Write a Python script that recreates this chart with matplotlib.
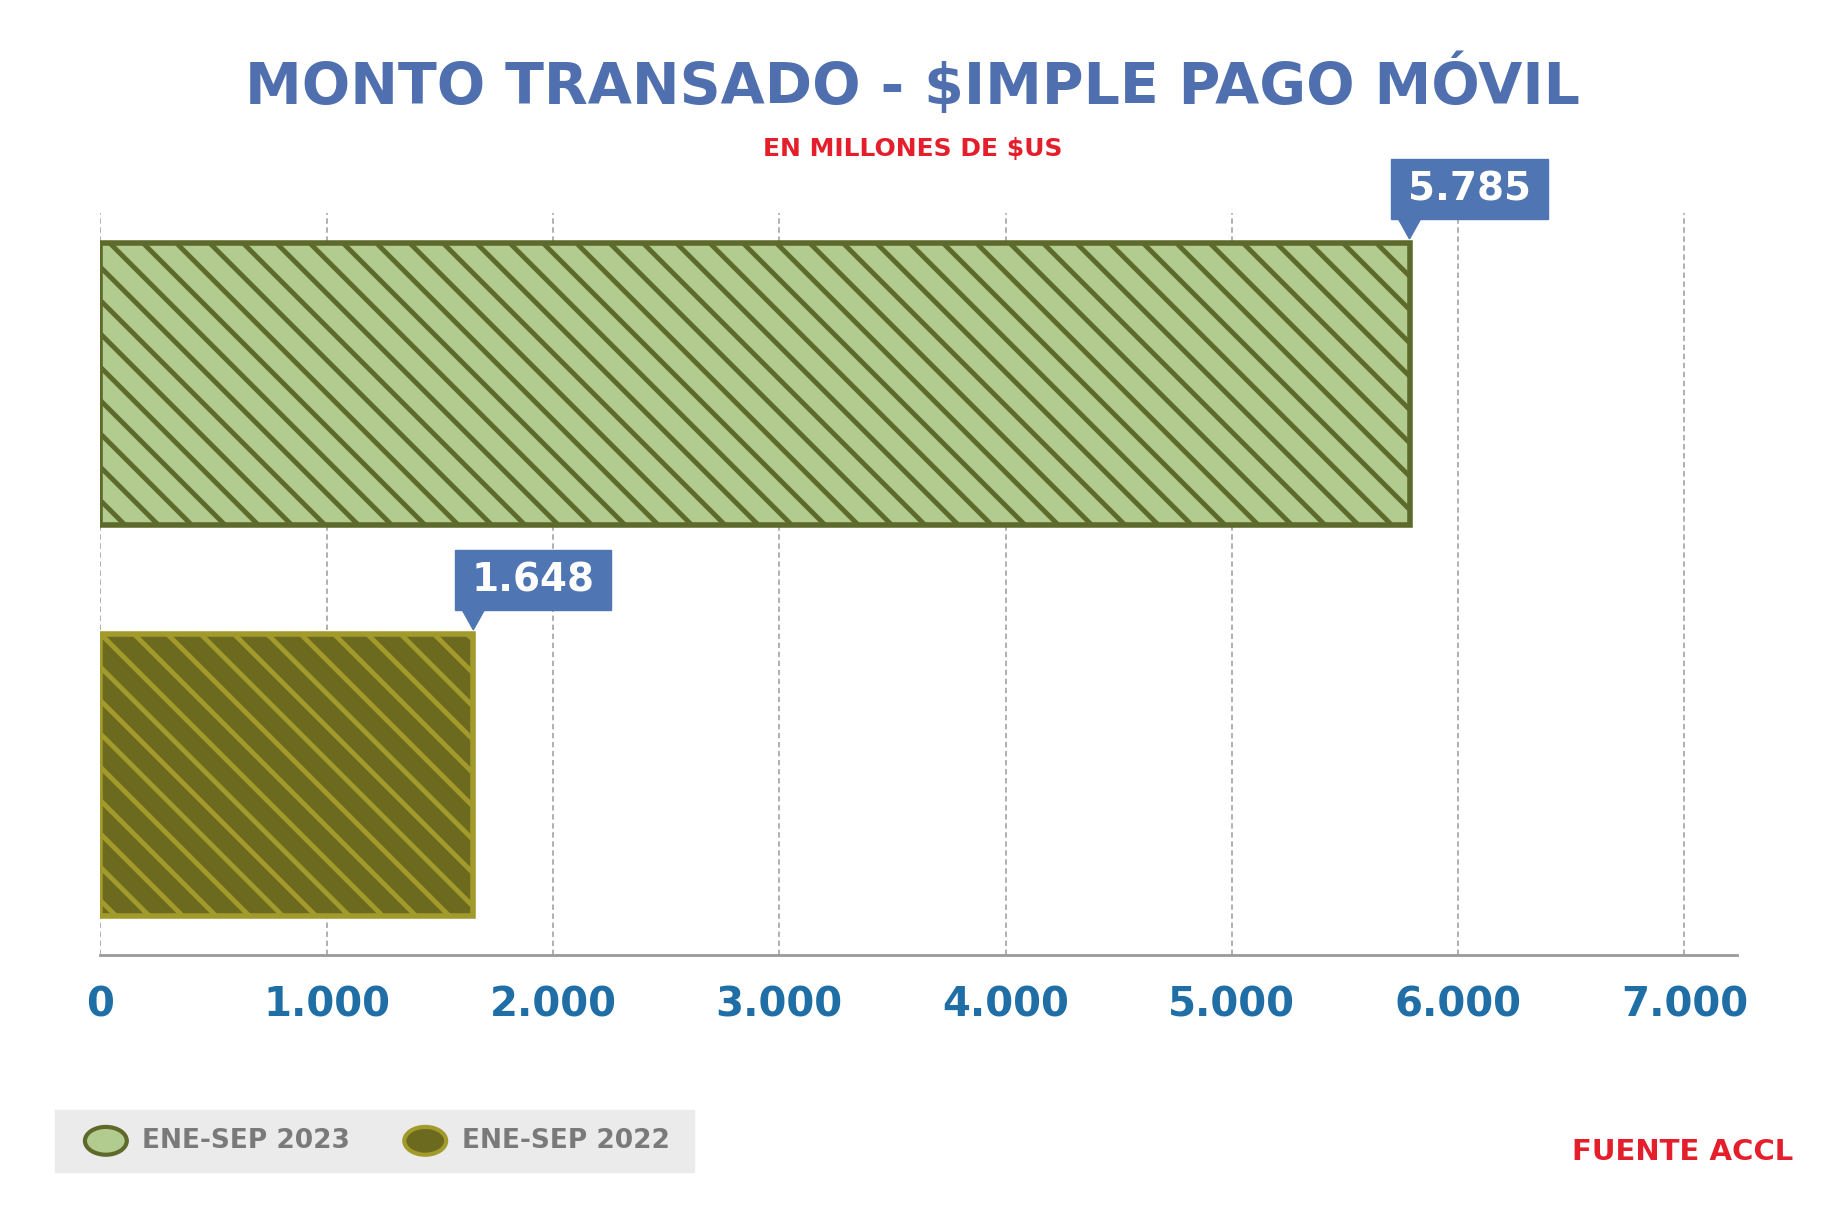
import matplotlib.pyplot as plt
from matplotlib.patches import Rectangle, Circle, Polygon
import matplotlib as mpl

categories = ["ENE-SEP 2022", "ENE-SEP 2023"]
values = [1648, 5785]
value_labels = ["1.648", "5.785"]
ticks = [0, 1000, 2000, 3000, 4000, 5000, 6000, 7000]
tick_labels = ["0", "1.000", "2.000", "3.000", "4.000", "5.000", "6.000", "7.000"]

faces = ["#6b6a1f", "#b2cb8e"]
edges = ["#a39a2c", "#5e6a2b"]
hatch_colors = ["#a39a2c", "#5e6a2b"]

blue = "#4f75b3"

fig = plt.figure(figsize=(18.25, 12.13), dpi=100)
ax = fig.add_axes([0.055, 0.213, 0.897, 0.611])

W = 7000 / (0.923 - 0.055) * 0.897
ax.set_xlim(0, W)
ax.set_ylim(-0.46, 1.436)

for i, (v, fc, ec, hc) in enumerate(zip(values, faces, edges, hatch_colors)):
    mpl.rcParams["hatch.color"] = hc
    mpl.rcParams["hatch.linewidth"] = 3.5
    ax.barh(i, v, height=0.722, color=fc, edgecolor=ec, hatch="\\", linewidth=4, zorder=3)

# value callouts
for i, (v, lab) in enumerate(zip(values, value_labels)):
    top = i + 0.361
    ax.add_patch(Rectangle((v - 80, top + 0.06), 690, 0.155, color=blue, zorder=4, clip_on=False))
    ax.add_patch(Polygon([[v - 50, top + 0.062], [v + 50, top + 0.062], [v, top + 0.01]],
                         color=blue, zorder=4, clip_on=False))
    ax.text(v + 265, top + 0.137, lab, color="white", fontsize=28, fontweight="bold",
            ha="center", va="center", zorder=5)

for t in ticks:
    ax.axvline(t, color="#aaaaaa", linestyle=(0, (3, 2)), linewidth=1.3, zorder=1)
ax.set_xticks(ticks)
ax.set_xticklabels(tick_labels, fontsize=29, fontweight="bold", color="#1f6fa6")
ax.tick_params(axis="x", length=0, pad=22)
ax.set_yticks([])
for s in ["top", "right", "left"]:
    ax.spines[s].set_visible(False)
ax.spines["bottom"].set_color("#9a9a9a")
ax.spines["bottom"].set_linewidth(2)

fig.text(0.5, 0.93, "MONTO TRANSADO - $IMPLE PAGO MÓVIL", ha="center", va="center",
         fontsize=41, fontweight="heavy", color="#4f6fae")
fig.text(0.5, 0.877, "EN MILLONES DE $US", ha="center", va="center",
         fontsize=18, fontweight="bold", color="#e41e2b")

# legend
fig.patches.append(Rectangle((0.030, 0.034), 0.350, 0.051, transform=fig.transFigure,
                             color="#ebebeb", zorder=0))
for x, cat, fc, ec in [(0.058, categories[1], faces[1], edges[1]),
                       (0.233, categories[0], faces[0], edges[0])]:
    fig.patches.append(Circle((x, 0.0595), 0.0115 * 12.13 / 18.25 * 1.5, transform=fig.transFigure,
                              facecolor=fc, edgecolor=ec, linewidth=3, zorder=2))
    fig.text(x + 0.02, 0.0595, cat, ha="left", va="center", fontsize=19,
             fontweight="bold", color="#7a7a7a")

fig.text(0.922, 0.05, "FUENTE ACCL", ha="center", va="center", fontsize=21,
         fontweight="bold", color="#e41e2b")

fig.savefig("out.png", dpi=100, facecolor="white")
